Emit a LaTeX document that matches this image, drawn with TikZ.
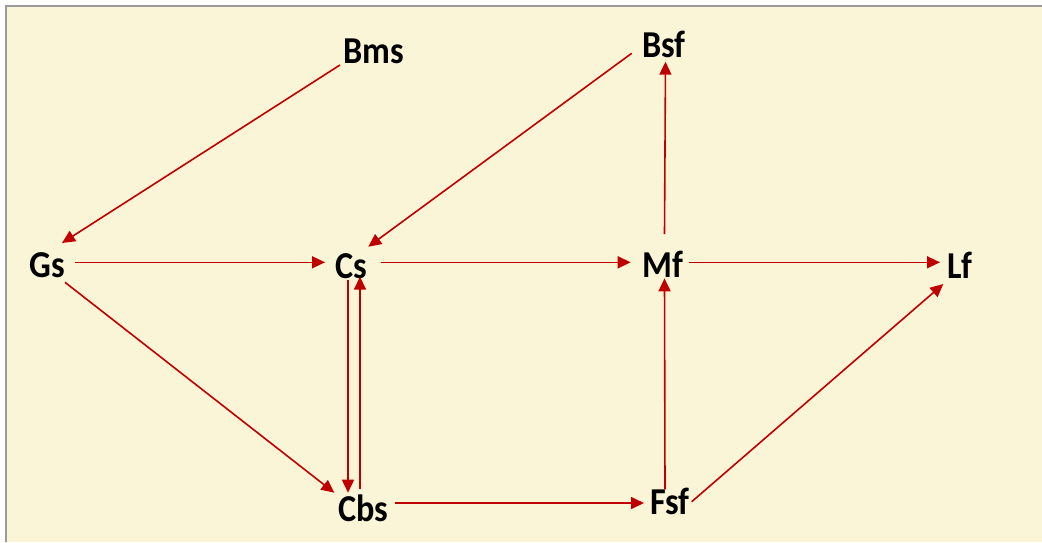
\documentclass[tikz,border=0pt]{standalone}
\usepackage{fontspec}
\setmainfont{Carlito}
\usetikzlibrary{arrows.meta,calc}
\definecolor{bg}{HTML}{FBF5D7}
\definecolor{arrred}{HTML}{C00000}
\definecolor{framegray}{HTML}{9A9A9A}
\newcommand\lb[1]{\scalebox{0.9}[1]{#1}}
\begin{document}
\begin{tikzpicture}[x=1pt,y=-1pt,
  lbl/.style={font=\bfseries\fontsize{38}{40}\selectfont, inner sep=0pt, anchor=base, text=black},
  arr/.style={draw=arrred, line width=1.6pt, -{Triangle[length=13pt,width=12pt]}, fill=arrred}]
\useasboundingbox (0,0) rectangle (1042,542);
\fill[white] (0,0) rectangle (1042,542);
\fill[bg] (5,5) rectangle (1042,542);
\draw[framegray, line width=2.5pt] (6.2,542) -- (6.2,6.2) -- (1042,6.2);

\node[lbl] (Bms) at (373.5,63) {\lb{Bms}};
\node[lbl] (Bsf) at (664,57) {\lb{Bsf}};
\node[lbl] (Gs) at (47.5,277) {\lb{Gs}};
\node[lbl] (Cs) at (351.5,278) {\lb{Cs}};
\node[lbl] (Mf) at (662.5,277) {\lb{Mf}};
\node[lbl] (Lf) at (959.5,278) {\lb{Lf}};
\node[lbl] (Cbs) at (363.5,521) {\lb{Cbs}};
\node[lbl] (Fsf) at (670,514) {\lb{Fsf}};

\draw[arr] ($(Bms.base)+(-33.5,2)$) -- ($(Gs.base)+(14.5,-34)$);
\draw[arr] ($(Bsf.base)+(-32.3,-3.7)$) -- ($(Cs.base)+(16.8,-31.3)$);
\draw[arr] ($(Gs.base)+(27.5,-14.7)$) -- ($(Cs.base)+(-26.5,-15.7)$);
\draw[arr] ($(Cs.base)+(29.2,-15.7)$) -- ($(Mf.base)+(-31.8,-14.7)$);
\draw[arr] ($(Mf.base)+(26.8,-14.7)$) -- ($(Lf.base)+(-19.5,-15.7)$);
\draw[arr] ($(Mf.base)+(2,-43)$) -- ($(Bsf.base)+(1.5,4.7)$);
\draw[arr] ($(Fsf.base)+(-5,-24.7)$) -- ($(Mf.base)+(2,1.3)$);
\draw[arr] ($(Fsf.base)+(21.7,-12.3)$) -- ($(Lf.base)+(-16.2,6)$);
\draw[arr] ($(Gs.base)+(17.5,5.3)$) -- ($(Cbs.base)+(-29.2,-28.3)$);
\draw[arr] ($(Cs.base)+(-3.5,2)$) -- ($(Cbs.base)+(-15.5,-28.3)$);
\draw[arr] ($(Cbs.base)+(-3.5,-31.7)$) -- ($(Cs.base)+(8.5,-1.3)$);
\draw[arr] ($(Cbs.base)+(31.5,-18)$) -- ($(Fsf.base)+(-26,-11)$);
\end{tikzpicture}
\end{document}
